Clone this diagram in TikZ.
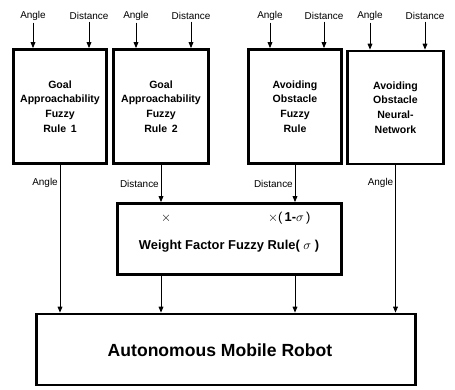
\documentclass[tikz,border=0pt]{standalone}
\usepackage{fontspec}
\setmainfont{Liberation Sans}
\usetikzlibrary{arrows.meta}
\def\px{0.03cm}
\tikzset{
  rbox/.style = {rectangle, draw, line width=2.4pt, align=center,
                 font=\fontsize{9}{12.5}\selectfont\bfseries, inner sep=2pt},
  arr/.style  = {-{Triangle[length=5pt, width=4pt]}, line width=0.8pt},
  lbl/.style  = {font=\fontsize{8.5}{10}\selectfont, inner sep=1.5pt},
}

\begin{document}
\begin{tikzpicture}[x=\px, y=-\px]

\useasboundingbox (0,0) rectangle (455,389);

% ============================================================
%  Rule boxes (top row)
% ============================================================

\node[rbox, minimum width=93*\px, minimum height=114*\px]
  (gr1box) at (60,106.5) {Goal\\Approachability\\Fuzzy\\Rule\, 1};
\node[rbox, minimum width=95*\px, minimum height=114*\px]
  (gr2box) at (161,106.5) {Goal\\Approachability\\Fuzzy\\Rule\, 2};
\node[rbox, minimum width=93*\px, minimum height=114*\px]
  (afrbox) at (295,106.5) {Avoiding\\Obstacle\\Fuzzy\\Rule};
\node[rbox, minimum width=96*\px, minimum height=113*\px]
  (annbox) at (395.5,107.5) {Avoiding\\Obstacle\\Neural-\\Network};

% --- Inputs ---
\node[lbl] (ang1)  at (33,16)  {Angle};
\node[lbl] (dist1) at (89,16)  {Distance};
\node[lbl] (ang2)  at (136,16) {Angle};
\node[lbl] (dist2) at (191,16) {Distance};
\node[lbl] (ang3)  at (270,16) {Angle};
\node[lbl] (dist3) at (324,16) {Distance};
\node[lbl] (ang4)  at (370,16) {Angle};
\node[lbl] (dist4) at (425,16) {Distance};

\draw[arr] (ang1)  -- (ang1  |- gr1box.north);
\draw[arr] (dist1) -- (dist1 |- gr1box.north);
\draw[arr] (ang2)  -- (ang2  |- gr2box.north);
\draw[arr] (dist2) -- (dist2 |- gr2box.north);
\draw[arr] (ang3)  -- (ang3  |- afrbox.north);
\draw[arr] (dist3) -- (dist3 |- afrbox.north);
\draw[arr] (ang4)  -- (ang4  |- annbox.north);
\draw[arr] (dist4) -- (dist4 |- annbox.north);

% ============================================================
%  Weight factor box and robot
% ============================================================

\node[rbox, minimum width=224*\px, minimum height=71*\px]
  (wbox) at (229.5,239) {};
\node[font=\fontsize{11}{12}\selectfont] (wmul1) at (166,218) {$\times$};
\node[font=\fontsize{11}{12}\selectfont, anchor=west, inner sep=0pt]
  (wmul2) at (268,218) {$\times$(\,\textbf{1-}$\sigma$\,)};
\node[font=\fontsize{11}{13}\selectfont\bfseries]
  (wtxt) at (229,246) {Weight Factor Fuzzy Rule(\;$\sigma$\;)};

\node[rbox, minimum width=379*\px, minimum height=71*\px]
  (robot) at (226,349.5) {};
\node[font=\fontsize{15}{18}\selectfont\bfseries]
  (rtxt) at (220,350) {Autonomous Mobile Robot};

% --- Connections ---
\draw[arr] (gr1box.south) -- (gr1box.south |- robot.north)
  node[lbl, left, pos=0.12] {Angle};
\draw[arr] (gr2box.south) -- (gr2box.south |- wbox.north)
  node[lbl, left, pos=0.5] {Distance};
\draw[arr] (afrbox.south) -- (afrbox.south |- wbox.north)
  node[lbl, left, pos=0.5] {Distance};
\draw[arr] (annbox.south) -- (annbox.south |- robot.north)
  node[lbl, left, pos=0.12] {Angle};

\draw[arr] (wbox.south -| gr2box.south) -- (robot.north -| gr2box.south);
\draw[arr] (wbox.south -| afrbox.south) -- (robot.north -| afrbox.south);

\end{tikzpicture}
\end{document}
